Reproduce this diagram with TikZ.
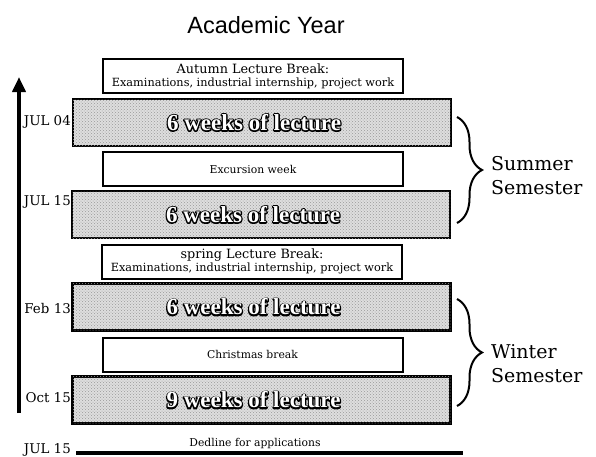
\documentclass[tikz,border=0pt]{standalone}
\usepackage{fontspec}
\setmainfont{DejaVu Serif}
\newfontfamily\titlefont{Liberation Sans}
\newfontfamily\lecturefont{Liberation Serif}
\usetikzlibrary{arrows.meta,decorations.pathreplacing,patterns}

\newcommand\lectxt[1]{\rlap{\special{pdf:literal direct 1 Tr 2.6 w 1 j 0 G}#1\special{pdf:literal direct 0 Tr}}\textcolor{white}{#1}\kern16pt}

\tikzset{
  lecture/.style={draw, line width=2.5pt, fill=black!13,
    postaction={pattern=crosshatch dots, pattern color=black!40},
    minimum width=378pt, minimum height=47pt, inner sep=0pt,
    font=\lecturefont\bfseries\fontsize{23}{24}\selectfont},
  brk/.style={draw, line width=2pt, fill=white, minimum width=300pt,
    minimum height=34pt, inner sep=0pt, align=center,
    font=\fontsize{12.8}{13}\selectfont},
  datelbl/.style={anchor=east, inner sep=0pt, font=\fontsize{13.4}{14}\selectfont},
  semlbl/.style={anchor=west, align=left, inner sep=0pt, font=\fontsize{19}{24}\selectfont},
  brc/.style={decorate, decoration={brace, amplitude=25pt}, line width=2pt},
  axis/.style={line width=4pt, -{Triangle[length=15pt,width=13pt]}}
}

\begin{document}
\begin{tikzpicture}[x=1pt,y=-1pt]
\useasboundingbox (0,0) rectangle (596,456);
\node[font=\titlefont\fontsize{23.5}{26}\selectfont, anchor=base] (title) at (266,33) {Academic Year};

\coordinate (t0) at (19,413);
\coordinate (t1) at (19,77);
\draw[axis] (t0) -- (t1);

\node[brk] (B1) at (253,76) {Autumn Lecture Break:\\{\fontsize{11.3}{12}\selectfont Examinations, industrial internship, project work}};
\node[lecture] (L1) at (262,122.5) {\lectxt{6 weeks of lecture}};
\node[brk, font=\fontsize{10.8}{12}\selectfont] (B2) at (253,169) {Excursion week};
\node[lecture] (L2) at (261,214.5) {\lectxt{6 weeks of lecture}};
\node[brk] (B3) at (252,261.5) {spring Lecture Break:\\{\fontsize{11.3}{12}\selectfont Examinations, industrial internship, project work}};
\node[lecture] (L3) at (261.5,307) {\lectxt{6 weeks of lecture}};
\node[brk, font=\fontsize{10.8}{12}\selectfont] (B4) at (252.5,354.5) {Christmas break};
\node[lecture] (L4) at (261.5,400) {\lectxt{9 weeks of lecture}};

\node[datelbl] (d1) at (71,122) {JUL 04};
\node[datelbl] (d2) at (71,202) {JUL 15};
\node[datelbl] (d3) at (71,308) {Feb 13};
\node[datelbl] (d4) at (71,398) {Oct 15};
\node[datelbl] (d5) at (71,450) {JUL 15};

\coordinate (s0) at (457,117);
\coordinate (s1) at (457,223);
\coordinate (w0) at (457,299);
\coordinate (w1) at (457,406);
\draw[brc] (s0) -- (s1);
\draw[brc] (w0) -- (w1);
\node[semlbl] (sum) at (491,176) {Summer\\Semester};
\node[semlbl] (win) at (491,364) {Winter\\Semester};

\coordinate (e0) at (76,453);
\coordinate (e1) at (463,453);
\draw[line width=4pt] (e0) -- (e1);
\node[anchor=base, font=\fontsize{10.8}{12}\selectfont] (dead) at (255,446) {Dedline for applications};
\end{tikzpicture}
\end{document}
